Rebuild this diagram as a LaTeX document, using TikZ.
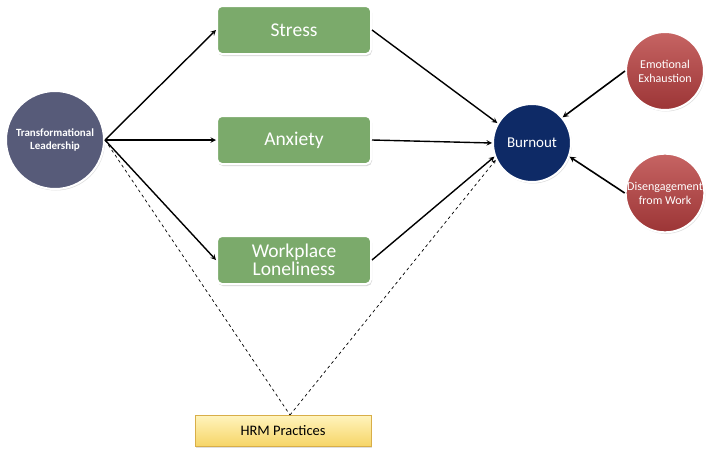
\documentclass[tikz,border=0pt]{standalone}
\usepackage{fontspec}
\setmainfont{Carlito}
\usepackage{tikz}
\usetikzlibrary{arrows,shapes,shadows}
\definecolor{tlcol}{HTML}{575B79}
\definecolor{boxgreen}{HTML}{7BAA6B}
\definecolor{navy}{HTML}{0E2A66}
\definecolor{redtop}{HTML}{C66463}
\definecolor{redbot}{HTML}{9C3536}
\definecolor{hrmtop}{HTML}{FFF4BC}
\definecolor{hrmbot}{HTML}{F6D466}
\definecolor{hrmline}{HTML}{D8AE48}
\begin{document}
\begin{tikzpicture}[x=1pt,y=-1pt,->,>=stealth,
        every edge/.style={draw,line width=1.4pt},
        circ/.style={circle,inner sep=1,draw=white,line width=2pt,text=white,align=center,
          drop shadow={opacity=0.25,shadow xshift=1pt,shadow yshift=-1.5pt}},
        med/.style={rectangle,rounded corners=5pt,minimum width=154pt,minimum height=48pt,
          fill=boxgreen,draw=white,line width=2pt,text=white,font=\fontsize{19.5}{20}\selectfont,
          align=center,drop shadow={opacity=0.3,shadow xshift=1pt,shadow yshift=-2pt}}]
        \useasboundingbox (0,0) rectangle (712,455);
        \node[circ,fill=tlcol,minimum size=98pt,font=\fontsize{11}{13}\selectfont\bfseries]
          (tl) at (55,140) {Transformational\\Leadership};
        \node[med] (st) at (294,30) {Stress};
        \node[med] (an) at (294,140) {Anxiety};
        \node[med] (wl) at (294,260) {Workplace\\[-2pt]Loneliness};
        \node[circ,fill=navy,minimum size=78pt,font=\fontsize{15}{17}\selectfont] (bo) at (532,143) {Burnout};
        \node[circ,top color=redtop,bottom color=redbot,minimum size=78pt,font=\fontsize{12}{14}\selectfont]
          (ee) at (665,71) {Emotional\\Exhaustion};
        \node[circ,top color=redtop,bottom color=redbot,minimum size=78pt,inner sep=0,font=\fontsize{12}{14}\selectfont]
          (dw) at (665,193) {Disengagement\\from Work};
        \node[rectangle,minimum width=176pt,minimum height=31pt,top color=hrmtop,bottom color=hrmbot,
          draw=hrmline,line width=0.6pt,font=\fontsize{14.5}{16}\selectfont,
          drop shadow={opacity=0.25,shadow xshift=1pt,shadow yshift=-1.5pt}] (hrm) at (283,431) {HRM Practices};
        \coordinate (tlr) at (105,140);
        \coordinate (hrmt) at (290,415);
        \path
          (tlr) edge (st.west)
          (tlr) edge (an.west)
          (tlr) edge (wl.west)
          (st.east) edge (bo.150)
          (an.east) edge (bo.west)
          (wl.east) edge (bo.200)
          (ee.west) edge[line width=1.6pt] (bo.40)
          (dw.west) edge[line width=1.6pt] (bo.-20)
          (tlr) edge[-,dashed,line width=0.7pt] (hrmt)
          (hrmt) edge[dashed,line width=0.7pt] (bo.205)
          ;
      \end{tikzpicture}
\end{document}
